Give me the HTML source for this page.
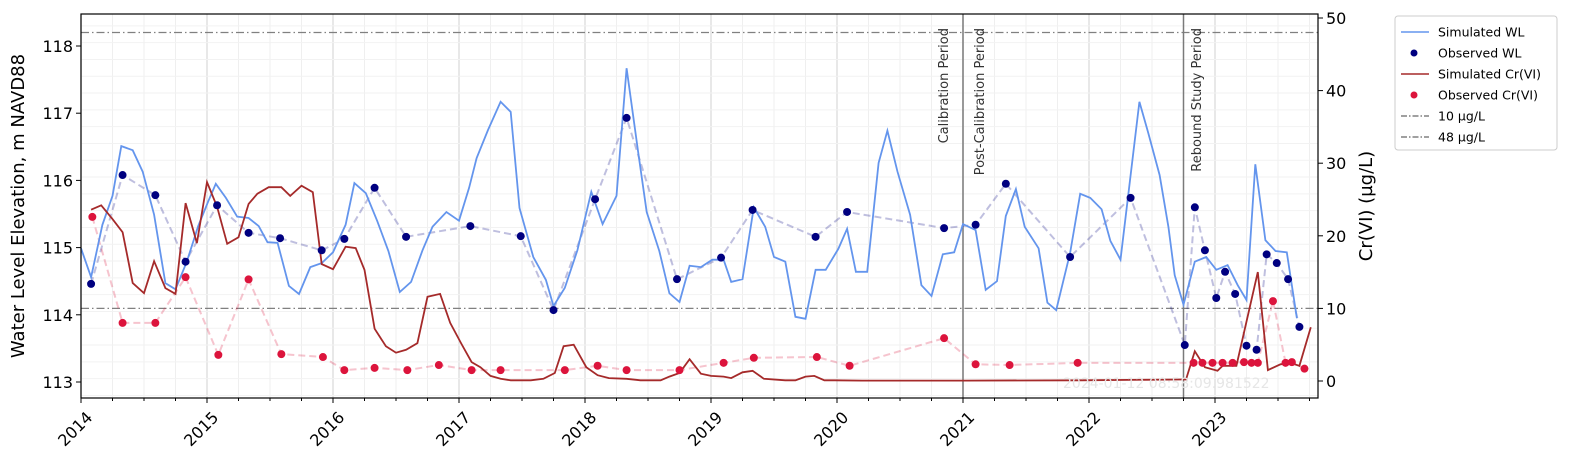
<!DOCTYPE html>
<html><head><meta charset="utf-8"><style>
body{margin:0;background:#fff;font-family:"Liberation Sans","DejaVu Sans",sans-serif}
svg text{font-family:"DejaVu Sans","Liberation Sans",sans-serif}
</style></head><body>
<svg id="chart" width="1572" height="467" xmlns="http://www.w3.org/2000/svg"></svg>
<script>
const simWLDates=[2014.00,2014.08,2014.17,2014.25,2014.32,2014.41,2014.49,2014.58,2014.67,2014.75,2014.84,2014.93,2015.01,2015.07,2015.15,2015.24,2015.33,2015.41,2015.48,2015.56,2015.65,2015.73,2015.82,2015.91,2016.00,2016.10,2016.17,2016.26,2016.35,2016.44,2016.53,2016.62,2016.71,2016.79,2016.90,2017.00,2017.08,2017.14,2017.23,2017.33,2017.41,2017.48,2017.59,2017.69,2017.75,2017.84,2017.94,2018.05,2018.14,2018.25,2018.33,2018.42,2018.49,2018.59,2018.67,2018.75,2018.83,2018.92,2019.01,2019.10,2019.16,2019.25,2019.34,2019.43,2019.50,2019.59,2019.67,2019.75,2019.83,2019.91,2020.01,2020.08,2020.15,2020.24,2020.33,2020.40,2020.48,2020.58,2020.67,2020.75,2020.84,2020.93,2021.00,2021.10,2021.18,2021.27,2021.34,2021.42,2021.49,2021.60,2021.67,2021.74,2021.85,2021.93,2022.01,2022.10,2022.17,2022.25,2022.40,2022.47,2022.56,2022.63,2022.68,2022.75,2022.84,2022.93,2023.01,2023.10,2023.18,2023.25,2023.32,2023.40,2023.48,2023.57,2023.65];
const simWL=[114.99,114.56,115.34,115.77,116.51,116.45,116.13,115.49,114.47,114.38,114.79,115.32,115.69,115.95,115.74,115.46,115.44,115.32,115.08,115.07,114.43,114.31,114.71,114.77,114.93,115.34,115.96,115.81,115.40,114.95,114.34,114.49,114.96,115.31,115.53,115.40,115.89,116.33,116.75,117.17,117.02,115.59,114.86,114.52,114.13,114.40,114.96,115.83,115.35,115.77,117.67,116.45,115.53,114.95,114.32,114.19,114.73,114.71,114.82,114.82,114.49,114.53,115.60,115.31,114.86,114.79,113.97,113.94,114.67,114.67,114.98,115.28,114.64,114.64,116.26,116.74,116.13,115.49,114.44,114.28,114.90,114.93,115.35,115.26,114.37,114.50,115.47,115.87,115.31,114.99,114.18,114.07,114.92,115.80,115.74,115.57,115.10,114.82,117.17,116.71,116.08,115.31,114.59,114.15,114.79,114.86,114.67,114.74,114.44,114.22,116.24,115.11,114.95,114.93,113.95];
const obsWLDates=[2014.08,2014.33,2014.59,2014.83,2015.08,2015.33,2015.58,2015.91,2016.09,2016.33,2016.58,2017.09,2017.49,2017.75,2018.08,2018.33,2018.73,2019.08,2019.33,2019.83,2020.08,2020.85,2021.10,2021.34,2021.85,2022.33,2022.76,2022.84,2022.92,2023.01,2023.08,2023.16,2023.25,2023.33,2023.41,2023.49,2023.58,2023.67];
const obsWL=[114.46,116.08,115.78,114.79,115.63,115.22,115.14,114.96,115.13,115.89,115.16,115.32,115.17,114.07,115.72,116.93,114.53,114.85,115.56,115.16,115.53,115.29,115.34,115.95,114.86,115.74,113.55,115.60,114.96,114.25,114.64,114.31,113.54,113.48,114.90,114.77,114.53,113.82];
const simCrDates=[2014.08,2014.16,2014.25,2014.33,2014.41,2014.50,2014.58,2014.67,2014.75,2014.83,2014.92,2015.00,2015.08,2015.16,2015.25,2015.33,2015.40,2015.49,2015.59,2015.66,2015.75,2015.84,2015.91,2016.00,2016.10,2016.18,2016.25,2016.33,2016.42,2016.50,2016.58,2016.67,2016.75,2016.85,2016.93,2017.02,2017.10,2017.17,2017.25,2017.33,2017.41,2017.57,2017.67,2017.76,2017.83,2017.91,2018.01,2018.10,2018.19,2018.33,2018.44,2018.60,2018.67,2018.75,2018.83,2018.92,2019.00,2019.10,2019.16,2019.25,2019.33,2019.42,2019.59,2019.67,2019.75,2019.82,2019.90,2019.98,2020.20,2020.50,2021.00,2021.93,2022.72,2022.77,2022.84,2022.92,2023.02,2023.06,2023.17,2023.34,2023.42,2023.52,2023.60,2023.67,2023.76];
const simCr=[23.6,24.2,22.3,20.5,13.5,12.1,16.5,12.8,12.0,24.5,19.0,27.4,24.0,18.9,19.8,24.4,25.8,26.7,26.7,25.5,26.9,26.0,16.1,15.4,18.5,18.3,15.3,7.2,4.8,3.9,4.3,5.2,11.6,12.0,8.0,5.1,2.6,1.9,0.7,0.3,0.1,0.1,0.3,1.1,4.8,5.0,1.9,0.8,0.4,0.3,0.1,0.1,0.6,1.1,3.0,1.0,0.7,0.6,0.4,1.2,1.4,0.3,0.1,0.1,0.6,0.7,0.1,0.1,0.05,0.05,0.05,0.1,0.2,0.2,4.1,1.9,1.4,2.1,2.1,15.0,1.5,2.3,2.5,2.1,7.4];
const obsCrDates=[2014.09,2014.33,2014.59,2014.83,2015.09,2015.33,2015.59,2015.92,2016.09,2016.33,2016.59,2016.84,2017.10,2017.33,2017.84,2018.10,2018.33,2018.75,2019.10,2019.34,2019.84,2020.10,2020.85,2021.10,2021.37,2021.91,2022.83,2022.90,2022.98,2023.06,2023.14,2023.23,2023.29,2023.34,2023.46,2023.56,2023.61,2023.71];
const obsCr=[22.6,8.0,8.0,14.3,3.6,14.0,3.7,3.3,1.5,1.8,1.5,2.2,1.5,1.5,1.5,2.1,1.5,1.5,2.5,3.2,3.3,2.1,5.9,2.3,2.2,2.5,2.5,2.5,2.5,2.5,2.5,2.6,2.5,2.5,11.0,2.5,2.6,1.7];
const xTicks=[2014,2015,2016,2017,2018,2019,2020,2021,2022,2023];
const yLeftTicks=[113,114,115,116,117,118];
const yRightTicks=[0,10,20,30,40,50];
const thresholds=[10,48];
const periodLines=[2021.0,2022.75];

const svg=document.getElementById('chart');
const NS='http://www.w3.org/2000/svg';
const L=81,R=1318,T=14,B=398;
const X=d=>L+(d-2014)*126;
const YL=v=>382-(v-113)*67.2;
const YR=v=>381-v*7.26;
function mk(tag,attrs,parent){const e=document.createElementNS(NS,tag);for(const k in attrs)e.setAttribute(k,attrs[k]);(parent||svg).appendChild(e);return e;}

const grid=mk('g',{});


for(let d=2014;d<=2023.8;d+=0.25){const major=Math.abs(d-Math.round(d))<1e-6;
 mk('line',{x1:X(d),x2:X(d),y1:T,y2:B,stroke:major?'#d8d8d8':'#efefef','stroke-width':major?1.2:1},grid);}
for(let v=112.8;v<=118.5;v+=0.25){const major=Math.abs(v-Math.round(v))<1e-6;
 mk('line',{x1:L,x2:R,y1:YL(v),y2:YL(v),stroke:major?'#e2e2e2':'#f2f2f2','stroke-width':1},grid);}

thresholds.forEach(t=>{const l=mk('line',{x1:L,x2:R,y1:YR(t),y2:YR(t),stroke:'#808080','stroke-width':1.3,'stroke-dasharray':'8,3,1.5,3'});
 
 });

periodLines.forEach((p,i)=>{const l=mk('line',{x1:X(p),x2:X(p),y1:T,y2:B,stroke:'#7a7a7a','stroke-width':1.5});
 
 });
function vlabel(x,txt,name){const t=mk('text',{x:x,y:28,'font-size':13,fill:'#333','text-anchor':'end',transform:`rotate(-90 ${x} 28)`});t.textContent=txt;
 
 }
vlabel(948,'Calibration Period','calibration-period-label');
vlabel(984,'Post-Calibration Period','post-calibration-period-label');
vlabel(1201,'Rebound Study Period','rebound-study-period-label');

function poly(ds,vs,yf,attrs,name){const pts=ds.map((d,i)=>X(d).toFixed(1)+','+yf(vs[i]).toFixed(1)).join(' ');
 const p=mk('polyline',Object.assign({points:pts,fill:'none'},attrs));
 
 }
poly(obsWLDates,obsWL,YL,{stroke:'rgba(0,0,128,0.25)','stroke-width':2,'stroke-dasharray':'7,4'},'observed-wl-connector');
poly(obsCrDates,obsCr,YR,{stroke:'rgba(220,20,60,0.25)','stroke-width':2,'stroke-dasharray':'7,4'},'observed-crvi-connector');
poly(simWLDates,simWL,YL,{stroke:'#6495ED','stroke-width':1.8},'simulated-wl-line');
poly(simCrDates,simCr,YR,{stroke:'#A52A2A','stroke-width':1.8},'simulated-crvi-line');
obsWLDates.forEach((d,i)=>{const c=mk('circle',{cx:X(d),cy:YL(obsWL[i]),r:4,fill:'#000080'});
 
 });
obsCrDates.forEach((d,i)=>{const c=mk('circle',{cx:X(d),cy:YR(obsCr[i]),r:4,fill:'#DC143C'});
 
 });

const wm=mk('text',{x:1063,y:388,'font-size':14,fill:'#e6e6e6'});wm.textContent='2024-01-12 08:58:09.981522';



const frame=mk('rect',{x:L,y:T,width:R-L,height:B-T,fill:'none',stroke:'#000','stroke-width':1.2});



for(let d=2014;d<=2023.8;d+=0.25){const major=Math.abs(d-Math.round(d))<1e-6;
 mk('line',{x1:X(d),x2:X(d),y1:B,y2:B+(major?5:3),stroke:'#000','stroke-width':1});}
xTicks.forEach(d=>{const x=X(d),y=B+12;const t=mk('text',{x:x+4,y:y,'font-size':16,'text-anchor':'end','dominant-baseline':'hanging',transform:`rotate(-45 ${x+4} ${y})`});t.textContent=d;
 
 });
yLeftTicks.forEach(v=>{mk('line',{x1:L-5,x2:L,y1:YL(v),y2:YL(v),stroke:'#000'});
 const t=mk('text',{x:L-8,y:YL(v)+6,'font-size':16,'text-anchor':'end'});t.textContent=v;
 
 });
yRightTicks.forEach(v=>{mk('line',{x1:R,x2:R+5,y1:YR(v),y2:YR(v),stroke:'#000'});
 const t=mk('text',{x:R+8,y:YR(v)+6,'font-size':16});t.textContent=v;
 
 });
const yt=mk('text',{x:24,y:206,'font-size':18,'text-anchor':'middle',transform:'rotate(-90 24 206)'});yt.textContent='Water Level Elevation, m NAVD88';


const yt2=mk('text',{x:1372,y:206,'font-size':18,'text-anchor':'middle',transform:'rotate(-90 1372 206)'});yt2.textContent='Cr(VI) (µg/L)';



const lg=mk('g',{});


mk('rect',{x:1395,y:16,width:162,height:134,rx:3,fill:'#fff',stroke:'#ccc'},lg);
const items=[['Simulated WL','line','#6495ED'],['Observed WL','dot','#000080'],['Simulated Cr(VI)','line','#A52A2A'],['Observed Cr(VI)','dot','#DC143C'],['10 µg/L','dash','#808080'],['48 µg/L','dash','#808080']];
items.forEach((it,i)=>{const y=32+i*21;const g=mk('g',{},lg);
 
 
 if(it[1]==='dot')mk('circle',{cx:1414,cy:y,r:3.5,fill:it[2]},g);
 else mk('line',{x1:1401,x2:1429,y1:y,y2:y,stroke:it[2],'stroke-width':1.6,'stroke-dasharray':it[1]==='dash'?'6,2,1.5,2':'none'},g);
 const t=mk('text',{x:1438,y:y+4.5,'font-size':12.5},g);t.textContent=it[0];});
</script>
</body></html>
